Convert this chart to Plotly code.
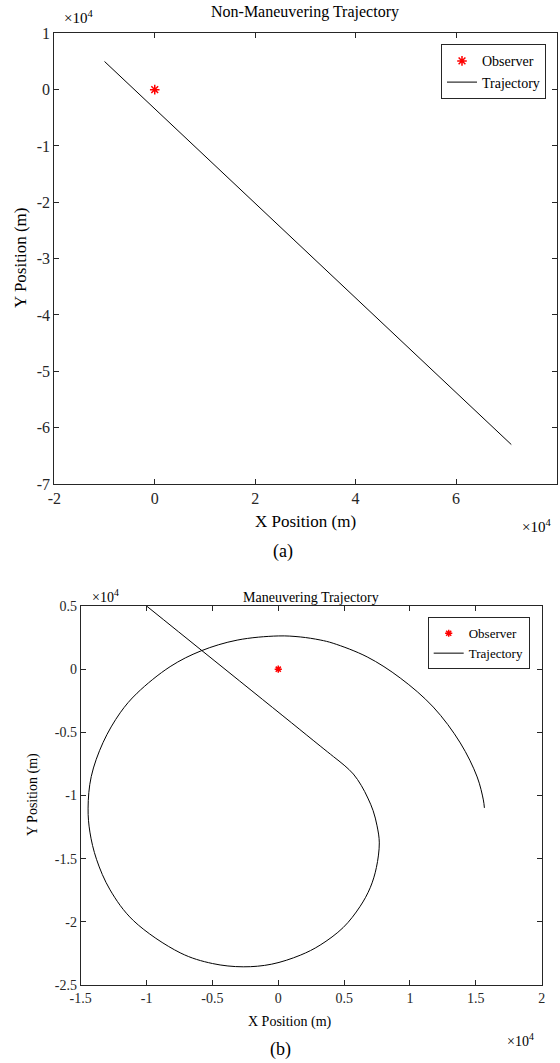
import plotly.graph_objects as go

W, H = 560, 1063
FONT = "Liberation Serif"

# ---- data (meters) ----
obs_x = [0]
obs_y = [0]

# (a) non-maneuvering trajectory
traj_a_x = [-10000, 71000]
traj_a_y = [5000, -63000]

# (b) maneuvering trajectory (units of 1e4 m)
traj_b_x = [-1.0, -0.586, -0.2, 0.1, 0.318, 0.42, 0.50, 0.57, 0.63, 0.68, 0.72, 0.75, 0.767, 0.745, 0.698,
            0.62, 0.493, 0.318, 0.167, -0.05, -0.266, -0.5, -0.745, -1.10, -1.277, -1.38, -1.43, -1.444,
            -1.42, -1.33, -1.20, -1.072, -0.821, -0.586, -0.312, 0.0, 0.167, 0.318, 0.417, 0.675, 0.926,
            1.177, 1.382, 1.51, 1.557, 1.565]
traj_b_y = [0.5, 0.152, -0.172, -0.424, -0.608, -0.693, -0.76, -0.83, -0.92, -1.02, -1.12, -1.24, -1.375, -1.57,
            -1.73, -1.88, -2.045, -2.184, -2.264, -2.335, -2.356, -2.33, -2.245, -1.99, -1.747, -1.505, -1.29,
            -1.1, -0.85, -0.58, -0.345, -0.19, 0.02, 0.145, 0.23, 0.263, 0.255, 0.231, 0.205, 0.097, -0.07,
            -0.30, -0.584, -0.853, -1.035, -1.098]
traj_b_x = [v * 1e4 for v in traj_b_x]
traj_b_y = [v * 1e4 for v in traj_b_y]

a_xticks = [-20000, 0, 20000, 40000, 60000, 80000]
a_xtext = ["-2", "0", "2", "4", "6", "8"]
a_yticks = [10000, 0, -10000, -20000, -30000, -40000, -50000, -60000, -70000]
a_ytext = ["1", "0", "-1", "-2", "-3", "-4", "-5", "-6", "-7"]

b_xticks = [-15000, -10000, -5000, 0, 5000, 10000, 15000, 20000]
b_xtext = ["-1.5", "-1", "-0.5", "0", "0.5", "1", "1.5", "2"]
b_yticks = [5000, 0, -5000, -10000, -15000, -20000, -25000]
b_ytext = ["0.5", "0", "-0.5", "-1", "-1.5", "-2", "-2.5"]


def px(x):
    return x / W


def py(y):
    return 1 - y / H


fig = go.Figure()

fig.add_trace(go.Scatter(x=obs_x, y=obs_y, mode="markers", name="Observer",
                         marker=dict(symbol="asterisk-open", size=8, color="red",
                                     line=dict(color="red", width=1.5)),
                         xaxis="x", yaxis="y", legend="legend"))
fig.add_trace(go.Scatter(x=traj_a_x, y=traj_a_y, mode="lines", name="Trajectory",
                         line=dict(color="black", width=1),
                         xaxis="x", yaxis="y", legend="legend"))
fig.add_trace(go.Scatter(x=obs_x, y=obs_y, mode="markers", name="Observer",
                         marker=dict(symbol="asterisk-open", size=6, color="red",
                                     line=dict(color="red", width=1.5)),
                         xaxis="x2", yaxis="y2", legend="legend2"))
fig.add_trace(go.Scatter(x=traj_b_x, y=traj_b_y, mode="lines", name="Trajectory",
                         line=dict(color="black", width=1, shape="spline", smoothing=1.0),
                         xaxis="x2", yaxis="y2", legend="legend2"))

axcommon = dict(showgrid=False, zeroline=False, showline=True, linecolor="#262626", linewidth=1,
                mirror="ticks", ticks="inside", ticklen=5, tickcolor="#262626",
                tickmode="array", automargin=False)

fig.update_layout(
    width=W, height=H, margin=dict(l=0, r=0, t=0, b=0, autoexpand=False),
    paper_bgcolor="white", plot_bgcolor="white",
    font=dict(family=FONT, color="#262626"),
    xaxis=dict(axcommon, domain=[px(54.3), px(556.5)], range=[-20000, 80000],
               tickvals=a_xticks, ticktext=a_xtext, anchor="y",
               tickfont=dict(family=FONT, size=16, color="#262626")),
    yaxis=dict(axcommon, domain=[py(484), py(33.3)], range=[-70000, 10000],
               tickvals=a_yticks, ticktext=a_ytext, anchor="x",
               tickfont=dict(family=FONT, size=16, color="#262626")),
    xaxis2=dict(axcommon, domain=[px(80.7), px(541.7)], range=[-15000, 20000],
                tickvals=b_xticks, ticktext=b_xtext, anchor="y2",
                tickfont=dict(family=FONT, size=14, color="#262626")),
    yaxis2=dict(axcommon, domain=[py(985), py(606)], range=[-25000, 5000],
                tickvals=b_yticks, ticktext=b_ytext, anchor="x2",
                tickfont=dict(family=FONT, size=14, color="#262626")),
    legend=dict(x=px(441), y=py(44.3), xanchor="left", yanchor="top",
                bordercolor="#262626", borderwidth=1, bgcolor="white",
                font=dict(family=FONT, size=14, color="black"), tracegroupgap=0,
                itemwidth=30),
    legend2=dict(x=px(427.7), y=py(617.3), xanchor="left", yanchor="top",
                 bordercolor="#262626", borderwidth=1, bgcolor="white",
                 font=dict(family=FONT, size=13, color="black"), tracegroupgap=0,
                 itemwidth=30),
    showlegend=True,
)

ann = [
    dict(text="Non-Maneuvering Trajectory", x=px(305), y=py(12), size=16),
    dict(text="X Position (m)", x=px(305), y=py(521), size=17),
    dict(text="(a)", x=px(283), y=py(551), size=18),
    dict(text="Maneuvering Trajectory", x=px(311), y=py(597), size=14),
    dict(text="X Position (m)", x=px(290), y=py(1022), size=14),
    dict(text="(b)", x=px(280), y=py(1049), size=18),
    dict(text="×10<sup>4</sup>", x=px(78), y=py(17), size=15),
    dict(text="×10<sup>4</sup>", x=px(536), y=py(526), size=15),
    dict(text="×10<sup>4</sup>", x=px(105), y=py(596), size=14),
    dict(text="×10<sup>4</sup>", x=px(520), y=py(1040), size=14),
]
for a in ann:
    fig.add_annotation(text=a["text"], x=a["x"], y=a["y"], xref="paper", yref="paper",
                       showarrow=False, xanchor="center", yanchor="middle",
                       font=dict(family=FONT, size=a["size"], color="black"))

fig.add_annotation(text="Y Position (m)", x=px(20), y=py(258), xref="paper", yref="paper",
                   showarrow=False, textangle=-90, xanchor="center", yanchor="middle",
                   font=dict(family=FONT, size=17, color="black"))
fig.add_annotation(text="Y Position (m)", x=px(33), y=py(795), xref="paper", yref="paper",
                   showarrow=False, textangle=-90, xanchor="center", yanchor="middle",
                   font=dict(family=FONT, size=14, color="black"))

fig.write_html("out.html", config={"displayModeBar": False},
               post_script="document.body.style.margin='0';document.body.style.overflow='hidden';")
